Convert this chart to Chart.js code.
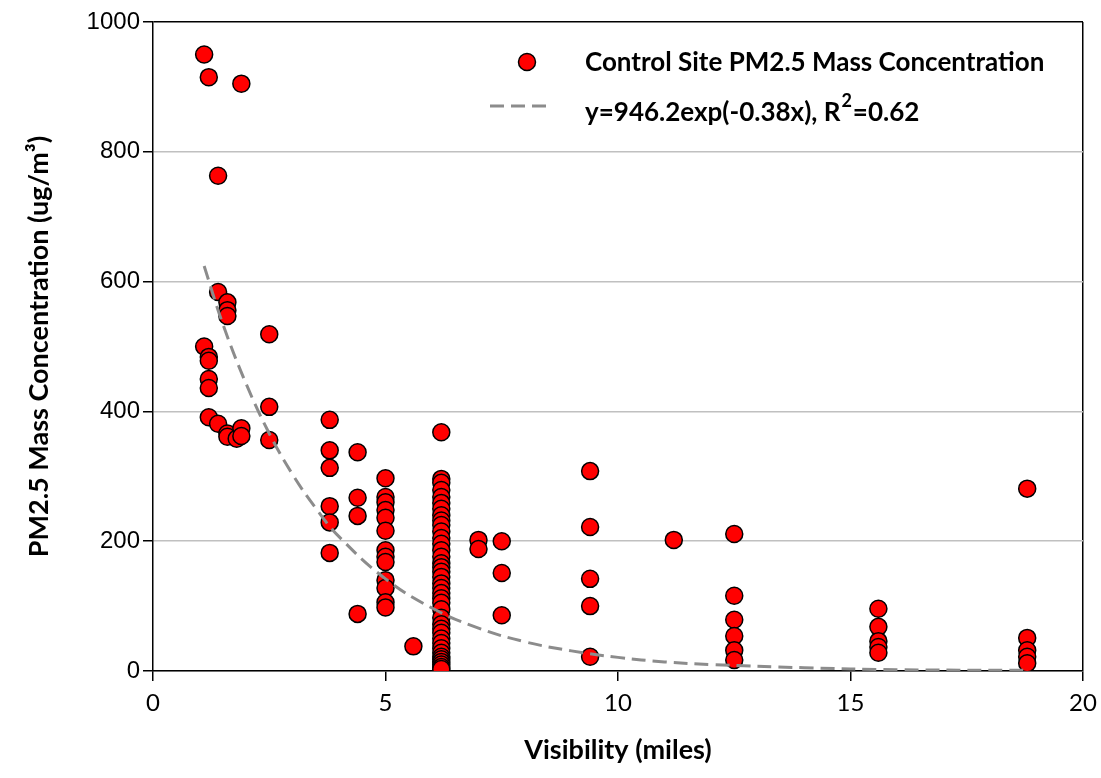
<!DOCTYPE html>
<html>
<head>
<meta charset="utf-8">
<script src="https://cdn.jsdelivr.net/npm/chart.js@4.4.0/dist/chart.umd.min.js"></script>
<style>
  html, body { margin: 0; padding: 0; background: #fff; }
</style>
</head>
<body>
<canvas id="myChart" width="1101" height="778"></canvas>
<script>
// valores
const visibility = [
  1.1, 1.2, 1.1, 1.2, 1.2, 1.2, 1.2, 1.2,
  1.4, 1.4, 1.4,
  1.6, 1.6, 1.6, 1.6, 1.6,
  1.8, 1.9, 1.9, 1.9,
  2.5, 2.5, 2.5,
  3.8, 3.8, 3.8, 3.8, 3.8, 3.8,
  4.4, 4.4, 4.4, 4.4,
  5, 5, 5, 5, 5, 5, 5, 5, 5, 5, 5, 5, 5,
  5.6,
  6.2, 6.2, 6.2, 6.2, 6.2, 6.2, 6.2, 6.2, 6.2, 6.2,
  6.2, 6.2, 6.2, 6.2, 6.2, 6.2, 6.2, 6.2, 6.2, 6.2,
  6.2, 6.2, 6.2, 6.2, 6.2, 6.2, 6.2, 6.2, 6.2, 6.2,
  6.2, 6.2, 6.2, 6.2, 6.2, 6.2, 6.2, 6.2, 6.2,
  7.0, 7.0,
  7.5, 7.5, 7.5,
  9.4, 9.4, 9.4, 9.4, 9.4,
  11.2,
  12.5, 12.5, 12.5, 12.5, 12.5, 12.5,
  15.6, 15.6, 15.6, 15.6, 15.6,
  18.8, 18.8, 18.8, 18.8, 18.8
];
const pm25 = [
  950, 915, 500, 484, 478, 450, 436, 391,
  763, 584, 381,
  568, 556, 547, 366, 361,
  358, 905, 374, 362,
  519, 407, 356,
  387, 340, 313, 254, 229, 182,
  337, 267, 239, 88,
  297, 268, 260, 248, 236, 216, 186, 176, 168, 140, 128, 106, 98,
  38,
  368, 296, 290, 279, 268, 259, 250, 240, 232, 225,
  215, 205, 196, 186, 176, 166, 160, 153, 145, 135,
  128, 120, 112, 105, 95, 82, 72, 65, 59, 50,
  43, 35, 28, 22, 18, 14, 10, 6, 3,
  202, 188,
  200, 151, 86,
  308, 222, 142, 100, 22,
  202,
  211, 116, 79, 54, 32, 17,
  96, 68, 46, 37, 28,
  281, 51, 32, 22, 12
];
const fitX = [1.1, 1.5, 2, 2.5, 3, 3.5, 4, 5, 6, 7, 8, 9, 10, 11, 12, 14, 16, 18.8];
const fitY = [624, 535, 443, 366, 303, 251, 207, 142, 97, 66, 45, 31, 21, 14, 10, 5, 2, 1];

const xTicks = [0, 5, 10, 15, 20];
const yTicks = [0, 200, 400, 600, 800, 1000];

const serieNombre = "Control Site PM2.5 Mass Concentration";
const ajusteNombre = "y=946.2exp(-0.38x), R";

const puntos = visibility.map((x, i) => ({ x: x, y: pm25[i] }));
const ajuste = fitX.map((x, i) => ({ x: x, y: fitY[i] }));

// leyenda dibujada dentro del area de la grafica
const leyenda = {
  id: "leyenda",
  afterDraw(chart) {
    const c = chart.ctx;
    c.save();
    // circulo
    c.beginPath();
    c.arc(527, 62, 8.5, 0, Math.PI * 2);
    c.fillStyle = "#ff0000";
    c.fill();
    c.lineWidth = 1.5;
    c.strokeStyle = "#000";
    c.stroke();
    // linea discontinua
    c.beginPath();
    c.setLineDash([14, 7]);
    c.moveTo(490, 106);
    c.lineTo(548, 106);
    c.strokeStyle = "#8c8c8c";
    c.lineWidth = 3;
    c.stroke();
    c.setLineDash([]);
    c.fillStyle = "#000";
    c.font = "bold 26px Lato";
    c.textBaseline = "middle";
    c.fillText(serieNombre, 585, 63);
    c.fillText(ajusteNombre, 585, 113);
    let w = c.measureText(ajusteNombre).width;
    c.font = "bold 18px Lato";
    c.fillText("2", 585 + w + 1, 101);
    let w2 = c.measureText("2").width;
    c.font = "bold 26px Lato";
    c.fillText("=0.62", 585 + w + w2 + 2, 113);
    c.restore();
  }
};

const ctx = document.getElementById("myChart").getContext("2d");
const myChart = new Chart(ctx, {
  type: "scatter",
  data: {
    datasets: [
      {
        label: ajusteNombre,
        data: ajuste,
        showLine: true,
        borderColor: "#8c8c8c",
        borderWidth: 3,
        borderDash: [14, 7],
        pointRadius: 0,
        tension: 0.4,
        order: 0
      },
      {
        label: serieNombre,
        data: puntos,
        backgroundColor: "#ff0000",
        borderColor: "#000000",
        borderWidth: 1.5,
        pointRadius: 8.5,
        order: 1
      }
    ]
  },
  options: {
    responsive: false,
    animation: false,
    layout: { padding: { top: 22, right: 18, left: 0, bottom: 0 } },
    plugins: {
      legend: { display: false },
      tooltip: { enabled: false }
    },
    scales: {
      x: {
        type: "linear",
        min: 0,
        max: 20,
        afterBuildTicks: (s) => { s.ticks = xTicks.map(v => ({ value: v })); },
        afterFit: (s) => { s.height = 107; s.paddingLeft = 0; s.paddingRight = 0; },
        grid: {
          drawOnChartArea: true,
          color: (c) => (c.tick && c.tick.value === 20 ? "#000" : "rgba(0,0,0,0)"),
          tickColor: "#000",
          tickLength: 10,
          lineWidth: 1.5
        },
        border: { color: "#000", width: 1.5 },
        ticks: { color: "#000", font: { family: "Lato", size: 24 }, padding: 8 },
        title: {
          display: true,
          text: "Visibility (miles)",
          color: "#000",
          font: { family: "Lato", size: 27, weight: "bold" },
          padding: { top: 0, bottom: 12 }
        }
      },
      y: {
        type: "linear",
        min: 0,
        max: 1000,
        afterBuildTicks: (s) => { s.ticks = yTicks.map(v => ({ value: v })); },
        afterFit: (s) => { s.width = 153; s.paddingTop = 0; s.paddingBottom = 0; },
        grid: {
          color: (c) => (c.tick && (c.tick.value === 1000) ? "#000" : "#c0c0c0"),
          lineWidth: 1.5,
          tickColor: "#000",
          tickLength: 10
        },
        border: { color: "#000", width: 1.5 },
        ticks: {
          color: "#000",
          font: { family: "Liberation Sans", size: 24 },
          padding: 3,
          callback: (v) => String(v)
        },
        title: {
          display: true,
          text: "PM2.5 Mass Concentration (ug/m³)",
          color: "#000",
          font: { family: "Lato", size: 27, weight: "bold" },
          padding: { top: 23, bottom: 0 }
        }
      }
    }
  },
  plugins: [leyenda]
});
</script>
</body>
</html>
